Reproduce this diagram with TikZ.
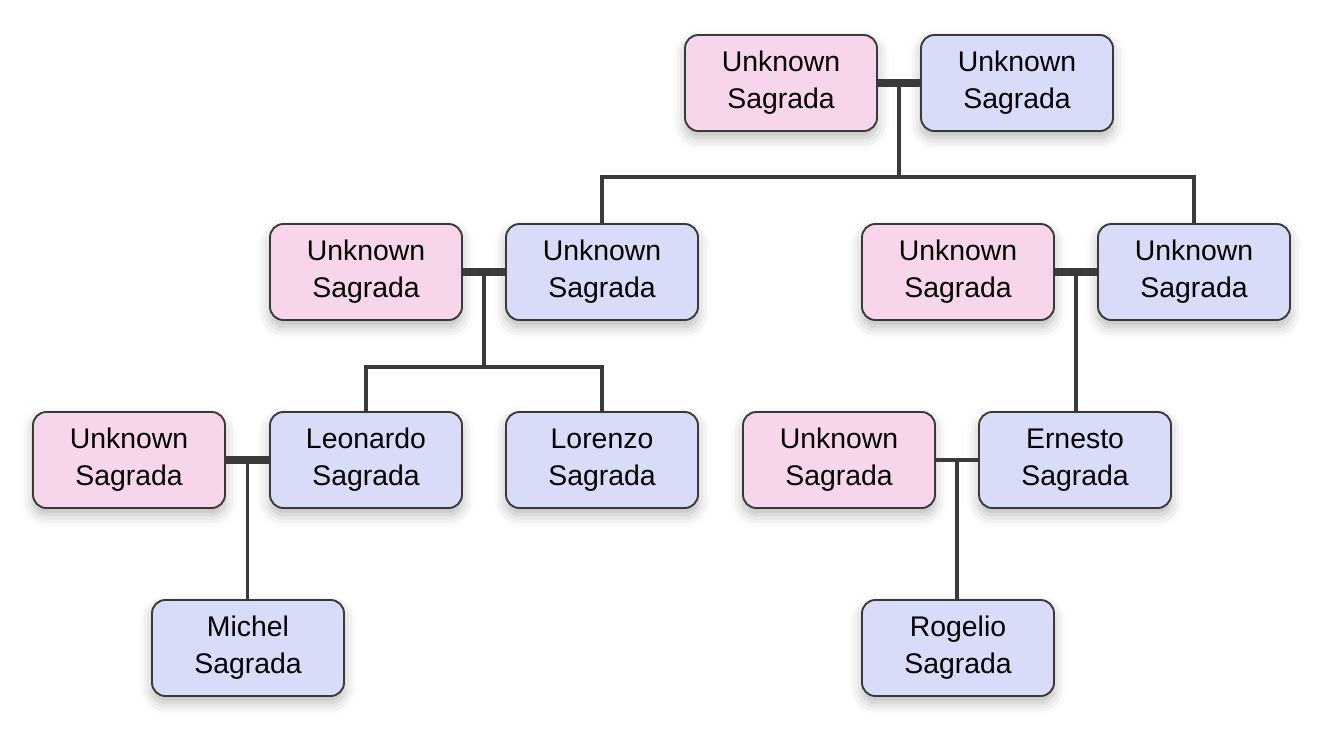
\documentclass[tikz,border=0pt]{standalone}
\usepackage{fontspec}
\setmainfont{Liberation Sans}
\usetikzlibrary{calc,shadows.blur}

\definecolor{herfill}{HTML}{F7D6EB}
\definecolor{hisfill}{HTML}{D8DCF8}
\definecolor{edgegray}{HTML}{3A3A3A}

\tikzset{
  person/.style={draw=edgegray, line width=1.4pt, rounded corners=10pt,
    minimum width=144pt, minimum height=72pt, align=center,
    font=\fontsize{21.3}{27.8}\selectfont,
    blur shadow={shadow xshift=0pt, shadow yshift=-5pt,
      shadow blur radius=9pt, shadow opacity=28}},
  her/.style={person, fill=herfill},
  him/.style={person, fill=hisfill},
  link/.style={draw=edgegray, line width=2.3pt},
  couple/.style={draw=edgegray, line width=6pt},
}

\begin{document}
\begin{tikzpicture}[x=0.75pt,y=-0.75pt]
  \useasboundingbox (0,0) rectangle (1335,740);

  % generation 1
  \node[her] (topw) at (781,83) {Unknown\\Sagrada};
  \node[him] (toph) at (1017,83) {Unknown\\Sagrada};

  % generation 2
  \node[her] (lw) at (366,272) {Unknown\\Sagrada};
  \node[him] (lh) at (602,272) {Unknown\\Sagrada};
  \node[her] (rw) at (958,272) {Unknown\\Sagrada};
  \node[him] (rh) at (1194,272) {Unknown\\Sagrada};

  % generation 3
  \node[her] (leow) at (129,460) {Unknown\\Sagrada};
  \node[him] (leo) at (366,460) {Leonardo\\Sagrada};
  \node[him] (lor) at (602,460) {Lorenzo\\Sagrada};
  \node[her] (ernw) at (839,460) {Unknown\\Sagrada};
  \node[him] (ern) at (1075,460) {Ernesto\\Sagrada};

  % generation 4
  \node[him] (mich) at (248,648) {Michel\\Sagrada};
  \node[him] (rog) at (958,648) {Rogelio\\Sagrada};

  % couples
  \coordinate (topm) at ($(topw.east)!0.5!(toph.west)$);
  \coordinate (lm) at ($(lw.east)!0.5!(lh.west)$);
  \coordinate (rm) at ($(rw.east)!0.5!(rh.west)$);
  \coordinate (leom) at ($(leow.east)!0.5!(leo.west)$);
  \coordinate (ernm) at ($(ernw.east)!0.5!(ern.west)$);
  \coordinate (topj) at (topm |- 0,177);
  \coordinate (lj) at (lm |- 0,367);

  \draw[link] (topm) -- (topj);
  \draw[link] (lh.north) |- (topj) -| (rh.north);
  \draw[link] (lm) -- (lj);
  \draw[link] (leo.north) |- (lj) -| (lor.north);
  \draw[link] (rm) -- (rm |- ern.north);
  \draw[link] (leom) -- (leom |- mich.north);
  \draw[link] (ernm) -- (ernm |- rog.north);

  \draw[couple] (topw.east) -- (toph.west);
  \draw[couple] (lw.east) -- (lh.west);
  \draw[couple] (rw.east) -- (rh.west);
  \draw[couple] (leow.east) -- (leo.west);
  \draw[link] (ernw.east) -- (ern.west);
\end{tikzpicture}
\end{document}
